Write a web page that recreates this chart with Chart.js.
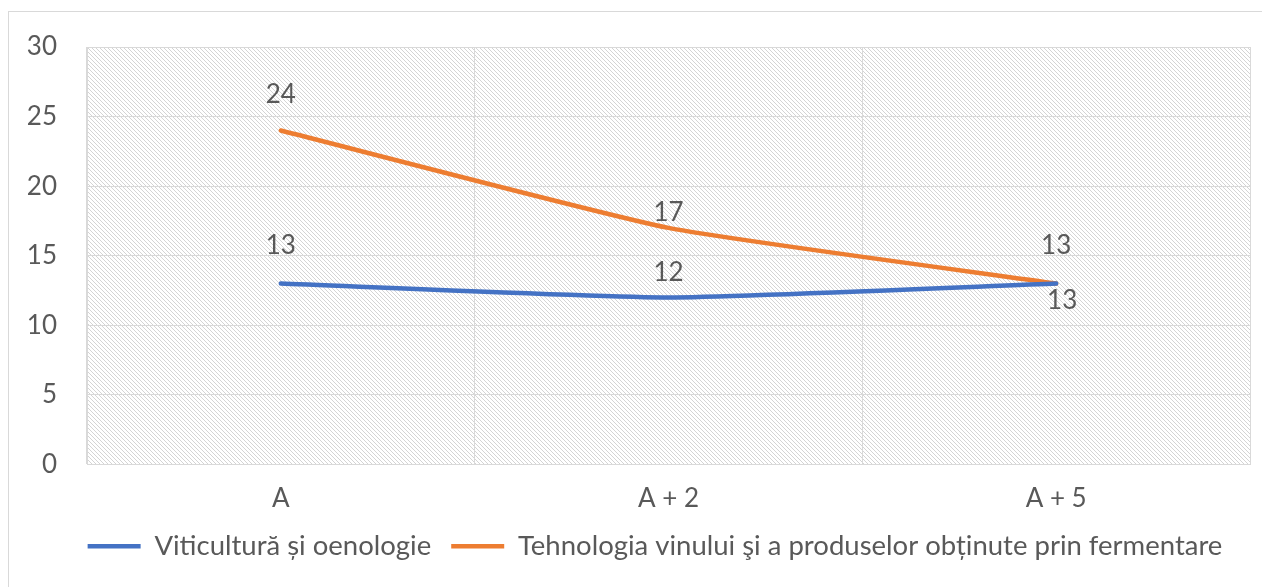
<!DOCTYPE html>
<html>
<head>
<meta charset="utf-8">
<script src="https://cdn.jsdelivr.net/npm/chart.js@4"></script>
<style>
  html, body { margin: 0; padding: 0; background: #fff; }
</style>
</head>
<body>
<canvas id="chart" width="1262" height="587"></canvas>
<script>
// data
const categories = ['A', 'A + 2', 'A + 5'];
const viticultura = [13, 12, 13];
const tehnologia = [24, 17, 13];
const seriesNames = ['Viticultură și oenologie', 'Tehnologia vinului şi a produselor obținute prin fermentare'];
const yTicks = [0, 5, 10, 15, 20, 25, 30];

const textColor = '#595959';
const gridColor = '#d9d9d9';
const fontSize = 26;

// diagonal hatch for the plot area
function makeHatch(ctx) {
    const c = document.createElement('canvas');
    c.width = 4; c.height = 4;
    const g = c.getContext('2d');
    g.fillStyle = '#ffffff';
    g.fillRect(0, 0, 4, 4);
    g.fillStyle = '#d4d4d4';
    for (let i = 0; i < 4; i++) g.fillRect(i, i, 1, 1);
    return ctx.createPattern(c, 'repeat');
}

const frame = {
    id: 'frame',
    beforeDraw(chart) {
        const ctx = chart.ctx, a = chart.chartArea;
        ctx.save();
        ctx.strokeStyle = gridColor;
        ctx.lineWidth = 1;
        ctx.strokeRect(8.5, 11.5, 1400, 700); // outer chart border
        ctx.fillStyle = makeHatch(ctx);
        ctx.fillRect(a.left, a.top, a.right - a.left, a.bottom - a.top);
        ctx.restore();
    },
    afterLayout(chart) {
        // legend sits a bit right of centre in the original
        chart.legend.left += 30;
        chart.legend.right += 30;
    }
};

// value labels next to each point, offsets as placed in the original
const valueLabels = {
    id: 'valueLabels',
    afterDatasetsDraw(chart, args, opts) {
        const ctx = chart.ctx;
        ctx.save();
        ctx.font = fontSize + 'px Lato';
        ctx.fillStyle = textColor;
        ctx.textAlign = 'center';
        ctx.textBaseline = 'middle';
        chart.data.datasets.forEach((ds, di) => {
            const meta = chart.getDatasetMeta(di);
            meta.data.forEach((pt, i) => {
                const off = opts.offsets[di][i];
                ctx.fillText(ds.data[i], pt.x + off[0], pt.y + off[1]);
            });
        });
        ctx.restore();
    }
};

new Chart(document.getElementById('chart'), {
    type: 'line',
    data: {
        labels: categories,
        datasets: [{
            label: seriesNames[0],
            data: viticultura,
            borderColor: '#4472C4',
            backgroundColor: '#4472C4',
            borderWidth: 4.5,
            borderCapStyle: 'round',
            pointRadius: 0,
            tension: 0.15
        }, {
            label: seriesNames[1],
            data: tehnologia,
            borderColor: '#ED7D31',
            backgroundColor: '#ED7D31',
            borderWidth: 4.5,
            borderCapStyle: 'round',
            pointRadius: 0,
            tension: 0.15
        }]
    },
    options: {
        responsive: false,
        animation: false,
        devicePixelRatio: 1,
        layout: { padding: { left: 0, top: 47, right: 12, bottom: 17 } },
        plugins: {
            tooltip: { enabled: false },
            valueLabels: {
                offsets: [
                    [[0, -38], [0, -25], [6, 17]],
                    [[0, -36], [0, -15], [0, -38]]
                ]
            },
            legend: {
                position: 'bottom',
                labels: {
                    usePointStyle: true,
                    pointStyle: 'line',
                    pointStyleWidth: 53,
                    boxHeight: 20,
                    color: textColor,
                    font: { family: 'Lato', size: 27.5 },
                    padding: 20
                }
            }
        },
        scales: {
            x: {
                offset: true,
                grid: { offset: true, color: gridColor, drawTicks: false },
                border: { color: gridColor },
                ticks: { color: textColor, font: { family: 'Lato', size: fontSize }, padding: 19 },
                afterFit(s) { s.height = 48; }
            },
            y: {
                min: 0,
                max: 30,
                afterBuildTicks(s) { s.ticks = yTicks.map(v => ({ value: v })); },
                grid: { color: gridColor, drawTicks: false },
                border: { color: gridColor },
                ticks: { color: textColor, font: { family: 'Lato', size: fontSize }, padding: 30 },
                afterFit(s) { s.width = 87; }
            }
        }
    },
    plugins: [frame, valueLabels]
});
</script>
</body>
</html>
